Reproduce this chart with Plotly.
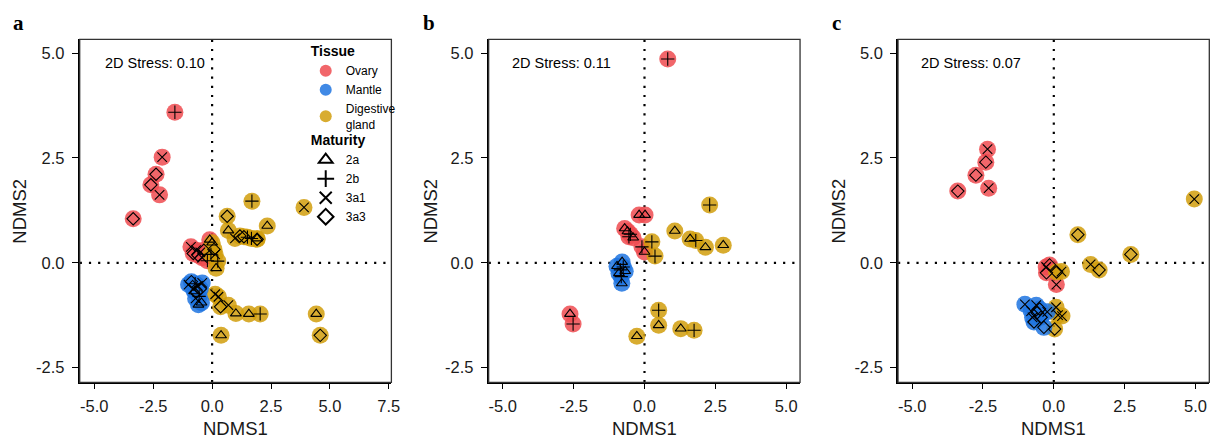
import plotly.graph_objects as go

# ---------------- data ----------------
tissues = ["Ovary", "Mantle", "Digestive gland"]
tissue_labels = ["Ovary", "Mantle", "Digestive<br>gland"]
maturities = ["2a", "2b", "3a1", "3a3"]
stress_labels = ["2D Stress: 0.10", "2D Stress: 0.11", "2D Stress: 0.07"]
panel_letters = ["a", "b", "c"]

x_tick_vals_a = [-5.0, -2.5, 0.0, 2.5, 5.0, 7.5]
x_tick_text_a = ["-5.0", "-2.5", "0.0", "2.5", "5.0", "7.5"]
x_tick_vals_bc = [-5.0, -2.5, 0.0, 2.5, 5.0]
x_tick_text_bc = ["-5.0", "-2.5", "0.0", "2.5", "5.0"]
y_tick_vals = [-2.5, 0.0, 2.5, 5.0]
y_tick_text = ["-2.5", "0.0", "2.5", "5.0"]

# Panel a
a_x = [-1.58, -2.12, -2.38, -2.60, -2.23, -3.35, -0.90, -0.80, -0.68, -0.60, -0.50, -0.42, -0.35, -0.10, -0.20,
       0.00, -0.05, 0.13, 0.24, 0.17, 0.08,
       1.69, 3.90, 0.64, 0.69, 2.34, 0.97, 1.18, 1.35, 1.50, 1.67, 1.91, 1.91,
       0.13, 0.27, 0.69, 0.36, 1.01, 1.56, 2.04, 0.38, 4.42, 4.59,
       -1.00, -0.88, -0.80, -0.72, -0.66, -0.60, -0.55, -0.50, -0.70, -0.45, -0.58, -0.75, -0.42]
a_y = [3.59, 2.52, 2.11, 1.86, 1.62, 1.05, 0.38, 0.22, 0.30, 0.18, 0.25, 0.12, 0.30, 0.55, 0.05,
       0.48, 0.20, 0.20, 0.04, -0.13, 0.32,
       1.47, 1.32, 1.11, 0.77, 0.88, 0.58, 0.64, 0.62, 0.61, 0.58, 0.58, 0.56,
       -0.75, -0.81, -1.01, -1.05, -1.21, -1.22, -1.22, -1.73, -1.22, -1.73,
       -0.52, -0.45, -0.62, -0.50, -0.70, -0.55, -0.80, -0.62, -0.85, -0.95, -1.00, -0.68, -0.48]
a_tissue = ["Ovary"] * 15 + ["Digestive gland"] * 28 + ["Mantle"] * 13
a_maturity = ["2b", "3a1", "3a3", "3a3", "3a1", "3a3", "3a1", "3a3", "3a1", "3a3", "3a1", "3a1", "3a3", "2a", "2b",
              "2a", "2b", "3a1", "2b", "2a", "3a3",
              "2b", "3a1", "3a3", "2a", "2a", "3a1", "3a3", "3a3", "2b", "2b", "2a", "3a3",
              "3a1", "3a1", "3a1", "3a3", "2a", "2a", "2b", "2a", "2a", "3a3",
              "3a1", "3a3", "3a1", "2b", "3a3", "3a1", "2b", "3a3", "3a1", "2a", "2a", "2a", "3a1"]

# Panel b
b_x = [0.82, -0.19, 0.02, -0.70, -0.60, -0.50, -0.55, -0.40, -0.09, 0.00, -2.63, -2.52,
       2.30, 1.07, 1.61, 1.81, 2.15, 2.78, 0.26, 0.37, 0.50, 0.50, 1.28, 1.75, -0.27,
       -0.79, -0.97, -0.85, -0.68, -0.82, -0.80, -0.75, -0.90]
b_y = [4.86, 1.14, 1.14, 0.82, 0.75, 0.68, 0.62, 0.60, 0.38, 0.26, -1.22, -1.46,
       1.38, 0.76, 0.57, 0.53, 0.37, 0.42, 0.50, 0.16, -1.13, -1.49, -1.57, -1.61, -1.75,
       0.02, -0.08, -0.17, -0.20, -0.33, -0.49, -0.10, -0.25]
b_tissue = ["Ovary"] * 12 + ["Digestive gland"] * 13 + ["Mantle"] * 8
b_maturity = ["2b", "2a", "2a", "2a", "2a", "2b", "2b", "2a", "2b", "2a", "2a", "2b",
              "2b", "2a", "2a", "2b", "2a", "2a", "2b", "2b", "2b", "2a", "2a", "2b", "2a",
              "2a", "2a", "2b", "2a", "2b", "2a", "2b", "2a"]

# Panel c
c_x = [-2.34, -2.40, -2.75, -2.30, -3.39, -0.27, -0.26, 0.09, -0.15,
       4.96, 0.85, 2.72, 1.30, 1.60, 0.27, 0.10, 0.08, 0.29, 0.03, 0.15,
       -1.02, -0.62, -0.59, -0.70, -0.23, -0.45, -0.80, -0.35, -0.75, -0.50]
c_y = [2.71, 2.40, 2.09, 1.78, 1.71, -0.10, -0.24, -0.52, -0.05,
       1.52, 0.67, 0.20, -0.04, -0.17, -0.21, -0.22, -1.06, -1.27, -1.58, -1.25,
       -0.99, -1.01, -1.19, -1.41, -1.17, -1.30, -1.15, -1.54, -1.30, -1.10]
c_tissue = ["Ovary"] * 9 + ["Digestive gland"] * 11 + ["Mantle"] * 10
c_maturity = ["3a1", "3a3", "3a3", "3a1", "3a3", "3a1", "3a3", "3a1", "3a3",
              "3a1", "3a3", "3a3", "3a1", "3a3", "3a1", "3a3", "3a1", "3a1", "3a3", "3a1",
              "3a1", "3a1", "3a3", "3a3", "3a1", "3a3", "3a1", "3a3", "3a1", "3a3"]

# ---------------- styles ----------------
tissue_colors = {"Ovary": "#EE4B50", "Mantle": "#1F74E0", "Digestive gland": "#D19E0C"}
maturity_symbols = {"2a": "triangle-up-open", "2b": "cross-thin-open",
                    "3a1": "x-thin-open", "3a3": "diamond-open"}
FONT = "Liberation Sans, Arial, sans-serif"

W, H = 1219, 439
panel_px = [(80.3, 394.3), (492.3, 806.0), (904.7, 1218.3)]
x_ranges = [(-5.62, 7.61), (-5.50, 5.49), (-5.50, 5.49)]
x_ticks = [(x_tick_vals_a, x_tick_text_a), (x_tick_vals_bc, x_tick_text_bc), (x_tick_vals_bc, x_tick_text_bc)]
y_range = (-2.85, 5.33)
top_px, bot_px = 39.3, 382.3
stress_px = [103.5, 513.5, 925.5]
letter_px = [19, 432, 843]
ytitle_px = [20, 434, 845]

panels = [(a_x, a_y, a_tissue, a_maturity),
          (b_x, b_y, b_tissue, b_maturity),
          (c_x, c_y, c_tissue, c_maturity)]

fig = go.Figure()

for i, (px, py, pt, pm) in enumerate(panels):
    ax = "" if i == 0 else str(i + 1)
    # coloured discs
    fig.add_trace(go.Scatter(
        x=px, y=py, mode="markers", xaxis="x" + ax, yaxis="y" + ax, showlegend=False,
        hoverinfo="skip",
        marker=dict(size=17, color=[tissue_colors[t] for t in pt], opacity=0.85, line=dict(width=0)),
    ))
    # maturity symbols
    fig.add_trace(go.Scatter(
        x=px, y=py, mode="markers", xaxis="x" + ax, yaxis="y" + ax, showlegend=False,
        marker=dict(size=9.5, symbol=[maturity_symbols[m] for m in pm], color="black",
                    line=dict(width=1.1, color="black")),
    ))

# legend entries
for t, lab in zip(tissues, tissue_labels):
    fig.add_trace(go.Scatter(
        x=[None], y=[None], mode="markers", name=lab, legendgroup="tissue", legend="legend",
        legendgrouptitle=dict(text="<b>Tissue</b>", font=dict(size=14, color="black", family=FONT)),
        marker=dict(size=10, color=tissue_colors[t], opacity=0.85),
    ))
for m in maturities:
    fig.add_trace(go.Scatter(
        x=[None], y=[None], mode="markers", name=m, legendgroup="maturity", legend="legend2",
        legendgrouptitle=dict(text="<b>Maturity</b>", font=dict(size=14, color="black", family=FONT)),
        marker=dict(size=10, symbol=maturity_symbols[m], color="black", line=dict(width=1.2, color="black")),
    ))

legend_common = dict(xanchor="left", yanchor="top", bgcolor="rgba(0,0,0,0)",
                     font=dict(size=12, color="black", family=FONT),
                     tracegroupgap=0, itemsizing="constant", itemwidth=30)

layout = dict(
    width=W, height=H, margin=dict(l=0, r=0, t=0, b=0),
    paper_bgcolor="white", plot_bgcolor="white",
    font=dict(family=FONT, color="black"),
    legend=dict(x=308 / W, y=1 - 35 / H, **legend_common),
    legend2=dict(x=308 / W, y=1 - 124 / H, **legend_common),
    annotations=[], shapes=[],
)

ydom = [1 - bot_px / H, 1 - top_px / H]
for i in range(3):
    ax = "" if i == 0 else str(i + 1)
    x0p, x1p = panel_px[i]
    layout["xaxis" + ax] = dict(
        domain=[x0p / W, x1p / W], range=list(x_ranges[i]), anchor="y" + ax,
        tickmode="array", tickvals=x_ticks[i][0], ticktext=x_ticks[i][1],
        showgrid=False, zeroline=False,
        showline=True, linecolor="black", linewidth=1.8, ticks="outside", ticklen=5,
        tickwidth=1.3, tickcolor="black", tickfont=dict(size=16.5, color="#1a1a1a"),
        ticklabelstandoff=3,
    )
    layout["yaxis" + ax] = dict(
        domain=ydom, range=list(y_range), anchor="x" + ax,
        tickmode="array", tickvals=y_tick_vals, ticktext=y_tick_text,
        showgrid=False, zeroline=False,
        showline=True, linecolor="black", linewidth=1.8, ticks="outside", ticklen=6,
        tickwidth=1.3, tickcolor="black", tickfont=dict(size=16.5, color="#1a1a1a"),
        ticklabelstandoff=4,
    )
    # panel frame
    layout["shapes"].append(dict(type="rect", xref="x" + ax + " domain", yref="y" + ax + " domain",
                                 x0=0, x1=1, y0=0, y1=1, line=dict(color="#333333", width=1.3),
                                 layer="above"))
    # dotted reference lines at zero
    layout["shapes"].append(dict(type="line", xref="x" + ax, yref="y" + ax + " domain",
                                 x0=0, x1=0, y0=0, y1=1, layer="below",
                                 line=dict(color="black", width=2.2, dash="2.2px,7px")))
    layout["shapes"].append(dict(type="line", xref="x" + ax + " domain", yref="y" + ax,
                                 x0=0, x1=1, y0=0, y1=0, layer="below",
                                 line=dict(color="black", width=2.2, dash="2.2px,7px")))
    # stress text
    layout["annotations"].append(dict(text=stress_labels[i], xref="paper", yref="paper",
                                      x=stress_px[i] / W, y=1 - 63.3 / H, xanchor="left", yanchor="middle",
                                      showarrow=False, font=dict(size=14.5, color="black", family=FONT)))
    # panel letter
    layout["annotations"].append(dict(text="<b>" + panel_letters[i] + "</b>", xref="paper", yref="paper",
                                      x=letter_px[i] / W, y=1 - 23 / H, xanchor="center", yanchor="middle",
                                      showarrow=False,
                                      font=dict(size=21, color="black", family="Liberation Serif, serif")))
    # axis titles
    layout["annotations"].append(dict(text="NDMS1", xref="paper", yref="paper",
                                      x=(x0p + x1p) / 2 / W, y=1 - 428.5 / H, xanchor="center",
                                      yanchor="middle", showarrow=False,
                                      font=dict(size=18.5, color="#1a1a1a", family=FONT)))
    layout["annotations"].append(dict(text="NDMS2", xref="paper", yref="paper", textangle=-90,
                                      x=ytitle_px[i] / W, y=1 - (top_px + bot_px) / 2 / H, xanchor="center",
                                      yanchor="middle", showarrow=False,
                                      font=dict(size=18.5, color="#1a1a1a", family=FONT)))

fig.update_layout(**layout)
fig.write_html("out.html")
